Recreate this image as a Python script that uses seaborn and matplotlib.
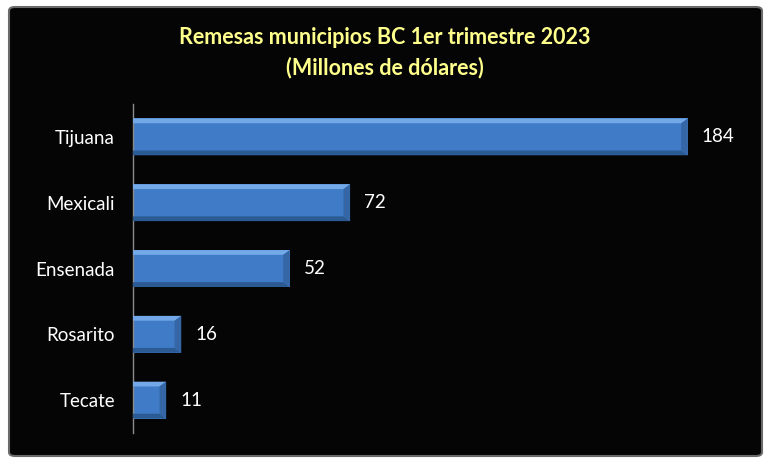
import matplotlib
matplotlib.use("Agg")
import matplotlib.pyplot as plt
import seaborn as sns
import pandas as pd
from matplotlib.patches import FancyBboxPatch, Polygon

municipios = ["Tijuana", "Mexicali", "Ensenada", "Rosarito", "Tecate"]
remesas = [184, 72, 52, 16, 11]
titulo = "Remesas municipios BC 1er trimestre 2023\n(Millones de dólares)"

df = pd.DataFrame({"municipio": municipios, "remesas": remesas})

sns.set_theme(style="white")
plt.rcParams["font.family"] = ["Lato", "DejaVu Sans"]

fig = plt.figure(figsize=(7.7, 4.7), dpi=100)
fig.patch.set_facecolor("white")

# black rounded panel with soft gray border
W, H = 770, 470
panel = FancyBboxPatch((9 / W, 1 - 456 / H), (762 - 9) / W, (456 - 7) / H,
                       boxstyle="round,pad=0,rounding_size=0.008",
                       transform=fig.transFigure, facecolor="#050505",
                       edgecolor="#6a6a6a", linewidth=1.5, zorder=-5)
fig.patches.append(panel)

ax = fig.add_axes([133 / W, 1 - 433 / H, (740 - 133) / W, (433 - 104) / H])
ax.set_zorder(2)
ax.set_facecolor("none")

sns.barplot(data=df, x="remesas", y="municipio", orient="h", color="#3f7bc6",
            width=0.56, saturation=1, ax=ax, zorder=2)

ax.set_xlim(0, 201.3)
ax.set_ylim(4.5, -0.5)

# bevel effect derived from bar geometry
for p in list(ax.patches):
    x0, y0 = p.get_x(), p.get_y()
    w, h = p.get_width(), p.get_height()
    p.set_edgecolor("none")
    bx = 2.2
    by = h * 0.13
    ax.add_patch(Polygon([(x0, y0), (x0 + w, y0), (x0 + w - bx, y0 + by), (x0, y0 + by)],
                         closed=True, facecolor="#74a9e8", edgecolor="none", zorder=3))
    ax.add_patch(Polygon([(x0, y0 + h), (x0 + w, y0 + h), (x0 + w - bx, y0 + h - by), (x0, y0 + h - by)],
                         closed=True, facecolor="#2c5b94", edgecolor="none", zorder=3))
    ax.add_patch(Polygon([(x0 + w, y0), (x0 + w, y0 + h), (x0 + w - bx, y0 + h - by), (x0 + w - bx, y0 + by)],
                         closed=True, facecolor="#3567a6", edgecolor="none", zorder=3))

ax.bar_label(ax.containers[0], labels=[str(v) for v in remesas], padding=10,
             color="white", fontsize=13.5)

ax.set_xlabel("")
ax.set_ylabel("")
ax.set_xticks([])
ax.tick_params(axis="y", colors="white", labelsize=13.5, length=0, pad=13)
for s in ["top", "right", "bottom"]:
    ax.spines[s].set_visible(False)
ax.spines["left"].set_color("#8c8c8c")
ax.spines["left"].set_linewidth(1)

fig.text(0.5, 1 - 53 / H, titulo, ha="center", va="center", color="#ffff8c",
         fontsize=15.5, fontweight="bold", linespacing=1.5)

fig.savefig("out.png", dpi=100, facecolor=fig.get_facecolor())
